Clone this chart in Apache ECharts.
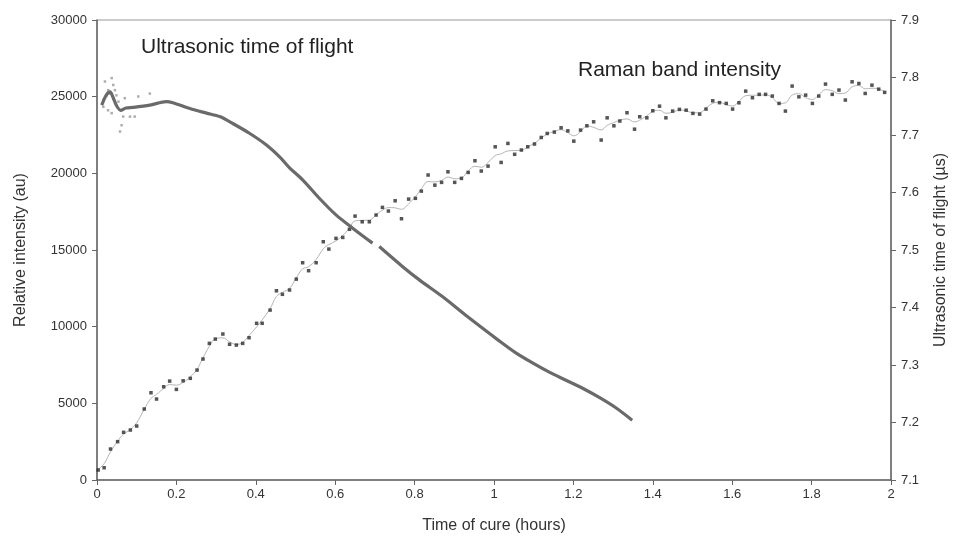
<!DOCTYPE html>
<html>
<head>
<meta charset="utf-8">
<script src="https://cdn.jsdelivr.net/npm/echarts@6/dist/echarts.min.js"></script>
<style>
html, body { margin: 0; padding: 0; background: #fff; }
#chart { width: 957px; height: 541px; }
</style>
</head>
<body>
<div id="chart"></div>
<script>
// Raman band intensity (hours, au)
var ramanHours = [0.003, 0.018, 0.034, 0.052, 0.067, 0.084, 0.100, 0.119, 0.136, 0.150, 0.168,
	0.183, 0.200, 0.217, 0.235, 0.252, 0.267, 0.283, 0.298, 0.317, 0.334,
	0.351, 0.367, 0.383, 0.402, 0.416, 0.436, 0.452, 0.467, 0.485, 0.502,
	0.518, 0.533, 0.552, 0.570, 0.584, 0.602, 0.619, 0.636, 0.650, 0.668,
	0.686, 0.703, 0.719, 0.734, 0.751, 0.767, 0.785, 0.802, 0.817, 0.834,
	0.851, 0.868, 0.884, 0.901, 0.918, 0.935, 0.952, 0.968, 0.985, 1.003,
	1.018, 1.035, 1.052, 1.069, 1.085, 1.102, 1.119, 1.134, 1.152, 1.169,
	1.186, 1.201, 1.218, 1.234, 1.251, 1.270, 1.285, 1.302, 1.317, 1.335,
	1.354, 1.367, 1.385, 1.400, 1.417, 1.433, 1.450, 1.467, 1.484, 1.501,
	1.518, 1.534, 1.551, 1.568, 1.585, 1.601, 1.617, 1.634, 1.651, 1.668,
	1.684, 1.701, 1.718, 1.734, 1.751, 1.768, 1.785, 1.802, 1.818, 1.835,
	1.852, 1.869, 1.885, 1.902, 1.919, 1.935, 1.952, 1.969, 1.984];
var ramanIntensity = [650, 800, 2020, 2500, 3110, 3260, 3520, 4630, 5690, 5280, 6080,
	6450, 5910, 6470, 6630, 7170, 7890, 8910, 9190, 9520, 8850,
	8800, 8910, 9280, 10220, 10220, 11080, 12340, 12110, 12390, 13100,
	14170, 13650, 14170, 15540, 15060, 15760, 15820, 16350, 17210, 16840,
	16840, 17280, 17780, 17540, 18210, 17040, 18320, 18370, 18840, 19890,
	19230, 19410, 20100, 19410, 19670, 20060, 20820, 20150, 20470, 21730,
	20710, 21950, 21240, 21520, 21730, 21910, 22340, 22600, 22690, 22970,
	22770, 22100, 22820, 23100, 23360, 22170, 23620, 23100, 23410, 23950,
	22880, 23690, 23620, 24080, 24380, 23620, 24060, 24170, 24120, 23910,
	23860, 24190, 24730, 24610, 24560, 24190, 24600, 25360, 24930, 25150,
	25150, 25040, 24560, 24060, 25690, 24990, 25100, 24560, 25040, 25820,
	25150, 25430, 24780, 25970, 25860, 25210, 25750, 25490, 25280];

// Ultrasonic time of flight (hours, µs); null = gap in the trace
var tofHours = [0.012, 0.023, 0.033, 0.040, 0.050, 0.060, 0.073, 0.090, 0.133, 0.175,
	0.191, 0.234, 0.276, 0.309, 0.342, 0.384, 0.426, 0.460, 0.485, 0.518,
	0.560, 0.602, 0.644, 0.694, 0.702, 0.711, 0.770, 0.812, 0.870, 0.937,
	1.013, 1.055, 1.096, 1.138, 1.180, 1.222, 1.264, 1.306, 1.348];
var tofValues = [7.752, 7.769, 7.775, 7.766, 7.750, 7.743, 7.747, 7.748, 7.752, 7.758,
	7.756, 7.746, 7.738, 7.732, 7.720, 7.703, 7.683, 7.662, 7.643, 7.622,
	7.590, 7.561, 7.538, 7.512, null, 7.506, 7.471, 7.448, 7.419, 7.382,
	7.342, 7.321, 7.304, 7.288, 7.274, 7.260, 7.244, 7.226, 7.204];

// scattered readings at the start of the ultrasonic trace
var tofNoiseHours = [0.020, 0.037, 0.041, 0.028, 0.045, 0.016, 0.024, 0.033, 0.049, 0.054,
	0.062, 0.066, 0.062, 0.058, 0.037, 0.070, 0.083, 0.104, 0.133, 0.095, 0.016, 0.028];
var tofNoiseValues = [7.793, 7.799, 7.787, 7.778, 7.778, 7.761, 7.769, 7.772, 7.769, 7.758,
	7.743, 7.732, 7.717, 7.706, 7.738, 7.764, 7.732, 7.767, 7.772, 7.732, 7.749, 7.743];

var xTicks = [0, 0.2, 0.4, 0.6, 0.8, 1, 1.2, 1.4, 1.6, 1.8, 2];

function pairs(xs, ys) {
	var out = [];
	for (var i = 0; i < xs.length; i++) {
		out.push([xs[i], ys[i] == null ? '-' : ys[i]]);
	}
	return out;
}

// light trend line through the Raman points (1-2-1 running mean)
function trend(xs, ys) {
	var out = [];
	for (var i = 0; i < xs.length; i++) {
		var a = ys[Math.max(0, i - 1)], b = ys[i], c = ys[Math.min(ys.length - 1, i + 1)];
		out.push([xs[i], (a + 2 * b + c) / 4]);
	}
	return out;
}

var font = 'Liberation Sans, Arial, sans-serif';
var axisColor = '#666';
var textColor = '#333';

var chart = echarts.init(document.getElementById('chart'));
chart.setOption({
	animation: false,
	backgroundColor: '#fff',
	grid: { left: 97, right: 64, top: 20, bottom: 61, show: true, borderColor: '#999', borderWidth: 1, backgroundColor: 'transparent' },
	xAxis: {
		type: 'value', min: 0, max: 2, interval: 0.2,
		name: 'Time of cure (hours)', nameLocation: 'middle', nameGap: 38,
		nameTextStyle: { fontFamily: font, fontSize: 16, color: textColor },
		axisLine: { lineStyle: { color: axisColor, width: 1.5 } },
		axisTick: { length: 5, lineStyle: { color: axisColor } },
		splitLine: { show: false },
		axisLabel: {
			fontFamily: font, fontSize: 13, color: textColor, margin: 8,
			formatter: function(v) {
				for (var i = 0; i < xTicks.length; i++) {
					if (Math.abs(xTicks[i] - v) < 1e-6) return String(xTicks[i]);
				}
				return '';
			}
		}
	},
	yAxis: [{
		type: 'value', min: 0, max: 30000, interval: 5000,
		name: 'Relative intensity (au)', nameLocation: 'middle', nameGap: 68, nameRotate: 90,
		nameTextStyle: { fontFamily: font, fontSize: 16, color: textColor },
		axisLine: { show: true, lineStyle: { color: axisColor, width: 1.5 } },
		axisTick: { show: true, length: 5, lineStyle: { color: axisColor } },
		splitLine: { show: false },
		axisLabel: { fontFamily: font, fontSize: 13, color: textColor, margin: 10, formatter: function(v) { return String(v); } }
	}, {
		type: 'value', min: 7.1, max: 7.9, interval: 0.1, position: 'right',
		name: 'Ultrasonic time of flight (\u00b5s)', nameLocation: 'middle', nameGap: 42, nameRotate: 90,
		nameTextStyle: { fontFamily: font, fontSize: 16, color: textColor },
		axisLine: { show: true, lineStyle: { color: axisColor, width: 1.5 } },
		axisTick: { show: true, length: 5, lineStyle: { color: axisColor } },
		splitLine: { show: false },
		axisLabel: { fontFamily: font, fontSize: 13, color: textColor, margin: 10, formatter: function(v) { return v.toFixed(1); } }
	}],
	graphic: [{
		type: 'text', left: 141, top: 37,
		style: { text: 'Ultrasonic time of flight', font: '21px ' + font, fill: '#222' }
	}, {
		type: 'text', left: 578, top: 60,
		style: { text: 'Raman band intensity', font: '21px ' + font, fill: '#222' }
	}],
	series: [{
		name: 'Raman trend', type: 'line', yAxisIndex: 0,
		data: trend(ramanHours, ramanIntensity),
		smooth: 0.4, showSymbol: false,
		lineStyle: { color: '#b5b5b5', width: 1 }, z: 2
	}, {
		name: 'Raman band intensity', type: 'scatter', yAxisIndex: 0,
		data: pairs(ramanHours, ramanIntensity),
		symbol: 'rect', symbolSize: 3.5,
		itemStyle: { color: '#2a2a2a' }, z: 3
	}, {
		name: 'Ultrasonic noise', type: 'scatter', yAxisIndex: 1,
		data: pairs(tofNoiseHours, tofNoiseValues),
		symbol: 'rect', symbolSize: 2.5,
		itemStyle: { color: '#999' }, z: 3
	}, {
		name: 'Ultrasonic time of flight', type: 'line', yAxisIndex: 1,
		data: pairs(tofHours, tofValues),
		smooth: 0.3, showSymbol: false, connectNulls: false,
		lineStyle: { color: '#6a6a6a', width: 3.2 }, z: 4
	}]
});
</script>
</body>
</html>
